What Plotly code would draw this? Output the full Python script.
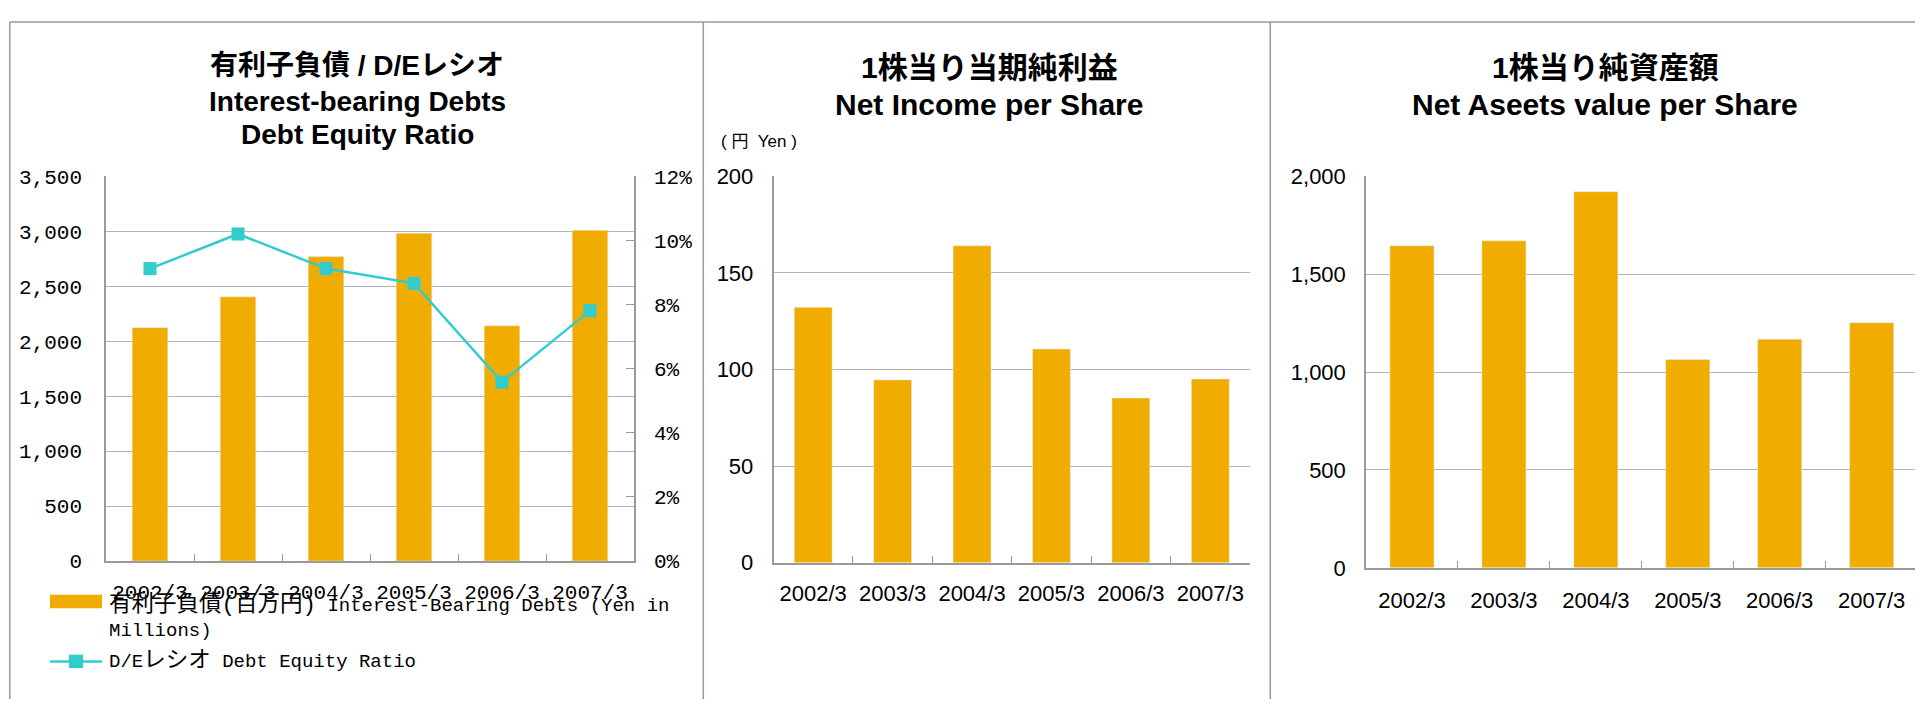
import plotly.graph_objects as go

# the page body keeps an 8px margin, so the figure is drawn 8px in from the corner
OFF = 8
W, H = 1923 - OFF, 720 - 2 * OFF

periods = ["2002/3", "2003/3", "2004/3", "2005/3", "2006/3", "2007/3"]
debts = [2123, 2403, 2769, 2982, 2140, 3009]          # 百万円
de_ratio = [9.12, 10.2, 9.12, 8.66, 5.58, 7.81]       # %
net_income_ps = [132.2, 94.6, 164.0, 110.6, 85.2, 95.1]
net_assets_ps = [1645, 1670, 1921, 1064, 1168, 1252]

BAR = "#F0AD00"
LINE = "#33CCCC"
GRID = "#b4b4b4"
AXIS = "#9a9a9a"
JP = "Liberation Sans, Noto Sans CJK JP"
MONO = "Liberation Mono, Noto Sans CJK JP"


def px(x):
    # screen pixel -> paper coordinate
    return (x - OFF) / W


def py(y):
    return 1 - (y - OFF) / H


def jp(s):
    # full-width glyphs in the legend are drawn a bit larger than the ascii ones
    return f'<span style="font-size:22.5px">{s}</span>'


fig = go.Figure()

# left panel: debts + D/E ratio
fig.add_trace(go.Bar(x=periods, y=debts, marker_color=BAR, width=0.405,
                     xaxis="x", yaxis="y", showlegend=False))
fig.add_trace(go.Scatter(x=periods, y=de_ratio, mode="lines+markers",
                         line=dict(color=LINE, width=2.5),
                         marker=dict(symbol="square", size=13, color=LINE),
                         xaxis="x", yaxis="y2", showlegend=False))
# middle panel
fig.add_trace(go.Bar(x=periods, y=net_income_ps, marker_color=BAR, width=0.477,
                     xaxis="x2", yaxis="y3", showlegend=False))
# right panel
fig.add_trace(go.Bar(x=periods, y=net_assets_ps, marker_color=BAR, width=0.48,
                     xaxis="x3", yaxis="y4", showlegend=False))

xcommon = dict(type="category", showline=True, linecolor=AXIS, linewidth=1.5,
               ticks="inside", tickson="boundaries", ticklen=7, tickcolor=AXIS,
               showgrid=False, zeroline=False, tickangle=0)
ycommon = dict(showline=True, linecolor=AXIS, linewidth=1.5, showgrid=True,
               gridcolor=GRID, gridwidth=1, zeroline=False, ticks="")
sans = dict(family="Liberation Sans", size=22, color="black")
mono = dict(family=MONO, size=21, color="black")

fig.update_layout(
    width=W, height=H,
    margin=dict(l=0, r=0, t=0, b=0),
    paper_bgcolor="white", plot_bgcolor="white",
    bargap=0.5,
    xaxis=dict(xcommon, domain=[px(106), px(634)], anchor="y",
               tickfont=mono, ticklabelstandoff=11),
    yaxis=dict(ycommon, domain=[py(569), py(170)], range=[0, 3500], dtick=500,
               anchor="x", tickformat=",", tickfont=mono, ticklabelstandoff=18),
    yaxis2=dict(overlaying="y", side="right", anchor="x", range=[0, 12], dtick=2,
                ticksuffix="%", showgrid=False, zeroline=False, showline=True,
                linecolor=AXIS, linewidth=1.5, ticks="inside", ticklen=8, tickcolor=AXIS,
                tickfont=mono, ticklabelstandoff=14),
    xaxis2=dict(xcommon, domain=[px(773.5), px(1250)], anchor="y3",
                tickfont=sans, ticklabelstandoff=10),
    yaxis3=dict(ycommon, domain=[py(570.7), py(170)], range=[0, 200], dtick=50,
                anchor="x2", tickfont=sans, ticklabelstandoff=14),
    xaxis3=dict(xcommon, domain=[px(1366), px(1917.6)], anchor="y4",
                tickfont=sans, ticklabelstandoff=12),
    yaxis4=dict(ycommon, domain=[py(576), py(170)], range=[0, 2000], dtick=500,
                anchor="x3", tickformat=",", tickfont=sans, ticklabelstandoff=14),
)

# panel frames
frame = dict(type="line", xref="paper", yref="paper", line=dict(color=AXIS, width=1.5))
fig.add_shape(frame, x0=px(9.8), x1=1, y0=py(10), y1=py(10))
for xv in (9.8, 703.3, 1270.3):
    fig.add_shape(frame, x0=px(xv), x1=px(xv), y0=py(10), y1=0)


# titles
def title(text, x, y, size):
    fig.add_annotation(text=f"<b>{text}</b>", x=px(x), y=py(y), xref="paper", yref="paper",
                       xanchor="center", yanchor="middle", showarrow=False,
                       font=dict(family=JP, size=size, color="black"))


title("有利子負債 / D/Eレシオ", 357, 55, 28)
title("Interest-bearing Debts", 357, 92, 28)
title("Debt Equity Ratio", 357, 127, 28)
title("1株当り当期純利益", 989, 57, 30)
title("Net Income per Share", 989, 96, 30)
title("1株当り純資産額", 1605, 57, 30)
title("Net Aseets value per Share", 1605, 96, 30)

fig.add_annotation(text="( 円  Yen )", x=px(719), y=py(134), xref="paper", yref="paper",
                   xanchor="left", yanchor="middle", showarrow=False,
                   font=dict(family=JP, size=17, color="black"))

# legend for the left panel
fig.add_shape(type="rect", xref="paper", yref="paper", x0=px(50), x1=px(102),
              y0=py(618), y1=py(604), fillcolor=BAR, line_width=0)
fig.add_shape(type="line", xref="paper", yref="paper", x0=px(50), x1=px(102),
              y0=py(673), y1=py(673), line=dict(color=LINE, width=2.5))
fig.add_shape(type="rect", xref="paper", yref="paper", x0=px(69), x1=px(83),
              y0=py(680), y1=py(666), fillcolor=LINE, line_width=0)
fig.add_annotation(text=jp("有利子負債(百万円)") + " Interest-Bearing Debts (Yen in<br>Millions)",
                   x=px(107), y=py(598), xref="paper", yref="paper", xanchor="left",
                   yanchor="top", align="left", showarrow=False,
                   font=dict(family=MONO, size=19, color="black"))
fig.add_annotation(text="D/E" + jp("レシオ") + " Debt Equity Ratio",
                   x=px(107), y=py(673), xref="paper", yref="paper", xanchor="left",
                   yanchor="middle", align="left", showarrow=False,
                   font=dict(family=MONO, size=19, color="black"))

fig.write_html("out.html")
